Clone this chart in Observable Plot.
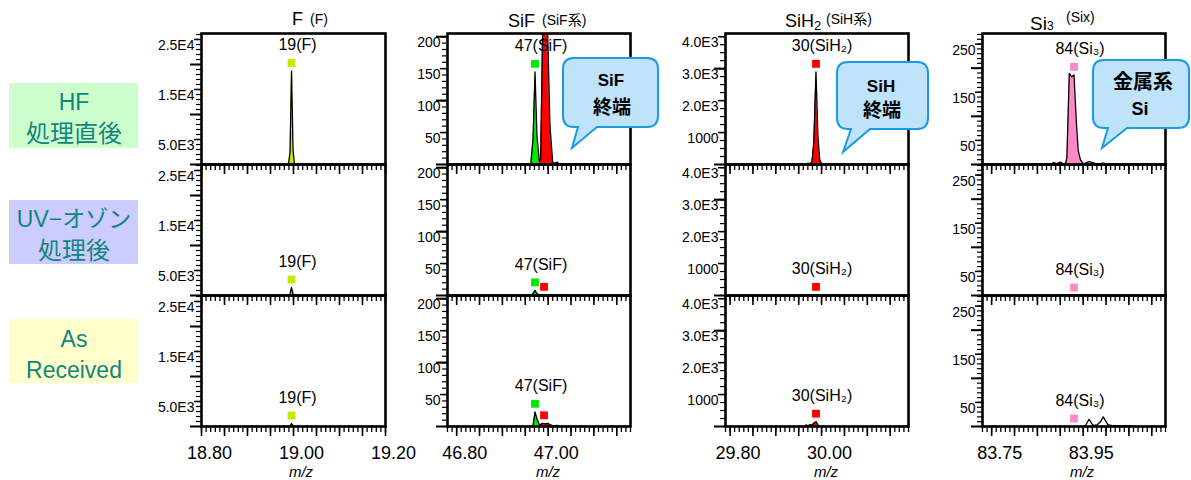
<!DOCTYPE html>
<html><head><meta charset="utf-8">
<script src="https://cdn.jsdelivr.net/npm/d3@7"></script>
<script src="https://cdn.jsdelivr.net/npm/@observablehq/plot@0.6"></script>
<style>
body{margin:0;background:#fff;}
#wrap{position:relative;width:1191px;height:480px;overflow:hidden;background:#fff;font-family:"Liberation Sans","Noto Sans CJK JP",sans-serif;}
#wrap > .col{position:absolute;top:0;}
#wrap svg{max-width:none !important;}
</style></head><body><div id="wrap"></div>
<script>
// ---------------- data ----------------
const rowKeys = ["HF", "UV", "AR"];

// F column (m/z around 19)
const F_mz = [18.80, 18.985, 18.989, 18.9925, 18.9957, 18.9990, 19.002, 19.006, 19.20];
const F_HF = [0, 0, 0, 2500, 18700, 3000, 0, 0, 0];
const F_UV = [0, 0, 0, 250, 1600, 300, 0, 0, 0];
const F_AR = [0, 0, 0, 100, 600, 120, 0, 0, 0];

// SiF column (m/z around 47)
const SiF_mz = [46.78, 46.95, 46.962, 46.967, 46.9713, 46.9755, 46.9807, 46.9835, 46.988, 46.9935, 46.999, 47.004, 47.010, 47.015, 47.019, 47.024, 47.03, 47.18];
const SiF_HF = [0, 0, 1, 40, 145, 45, 5, 8, 210, 330, 205, 60, 3, 2, 4, 1, 1, 0];
const SiF_UV = [0, 0, 0, 3, 8, 3, 1, 1, 1, 1, 1, 0, 0, 0, 0, 0, 0, 0];
const SiF_AR = [0, 0, 0, 2, 23, 12, 3, 3, 5, 4, 5, 3, 1, 1, 2, 0, 0, 0];

// SiH2 column (m/z around 30)
const SiH_mz = [29.79, 29.962, 29.966, 29.970, 29.975, 29.979, 29.983, 29.9878, 29.992, 29.996, 30.000, 30.004, 30.19];
const SiH_HF = [0, 0, 20, 40, 30, 80, 700, 2900, 900, 150, 30, 0, 0];
const SiH_UV = [0, 0, 0, 10, 0, 10, 20, 20, 10, 0, 0, 0, 0];
const SiH_AR = [0, 0, 50, 20, 60, 40, 100, 150, 50, 0, 0, 0, 0];

// Si3 column (m/z around 84)
const Si3_mz = [83.73, 83.88, 83.885, 83.892, 83.90, 83.906, 83.912, 83.9145, 83.9197, 83.925, 83.930, 83.935, 83.939, 83.944, 83.950, 83.955, 83.963, 83.971, 83.980, 83.988, 83.994, 84.004, 84.013, 84.03, 84.052, 84.06, 84.13];
const Si3_HF = [0, 0, 4, 2, 5, 2, 3, 15, 189, 182, 186, 90, 30, 10, 2, 3, 6, 4, 1, 2, 3, 1, 0, 0, 0, 0, 0];
const Si3_UV = [0, 0, 0, 0, 0, 0, 0, 0, 0, 0, 0, 0, 0, 0, 0, 0, 0, 0, 0, 0, 0, 0, 0, 0, 0, 0, 0];
const Si3_AR = [0, 0, 0, 0, 0, 0, 0, 0, 0, 0, 0, 0, 0, 0, 0, 2, 15, 3, 3, 10, 20, 4, 2, 1, 2, 0, 0];

// tick values and labels
const F_xTicks = [18.80, 19.00, 19.20];
const SiF_xTicks = [46.80, 47.00];
const SiH_xTicks = [29.80, 30.00];
const Si3_xTicks = [83.75, 83.95];
const F_yTicks = [5000, 15000, 25000];
const F_yLabels = ["5.0E3", "1.5E4", "2.5E4"];
const SiF_yTicks = [50, 100, 150, 200];
const SiF_yLabels = ["50", "100", "150", "200"];
const SiH_yTicks = [1000, 2000, 3000, 4000];
const SiH_yLabels = ["1000", "2.0E3", "3.0E3", "4.0E3"];
const Si3_yTicks = [50, 150, 250];
const Si3_yLabels = ["50", "150", "250"];

// reference peak markers (m/z) and labels
const F_marks = [18.9957];
const SiF_marks = [46.9713, 46.991];
const SiH_marks = [29.9878];
const Si3_marks = [83.930];
const peakLabels = ["19(F)", "47(SiF)", "30(SiH₂)", "84(Si₃)"];

// ---------------- styles / layout ----------------
const LIME = "#c8e800", GREEN = "#00e800", RED = "#ff0000", PINK = "#ff88c8";
const cols = [
  {mz: F_mz, rows: [F_HF, F_UV, F_AR], xDomain: [18.80, 19.20], yDomain: [0, 26200],
   xTicks: F_xTicks, yTicks: F_yTicks, yLabels: F_yLabels, yMinorStep: 1000, yLong: [0, 10000, 20000],
   marks: F_marks, markColors: [LIME], fills: [{from: 18.98, to: 19.01, color: LIME}],
   label: peakLabels[0], left: 201, w: 184},
  {mz: SiF_mz, rows: [SiF_HF, SiF_UV, SiF_AR], xDomain: [46.78, 47.18], yDomain: [0, 205],
   xTicks: SiF_xTicks, yTicks: SiF_yTicks, yLabels: SiF_yLabels, yMinorStep: 10, yLong: [0, 100, 200],
   marks: SiF_marks, markColors: [GREEN, RED],
   fills: [{from: 46.955, to: 46.9807, color: GREEN}, {from: 46.9807, to: 47.012, color: RED}],
   label: peakLabels[1], left: 447, w: 183},
  {mz: SiH_mz, rows: [SiH_HF, SiH_UV, SiH_AR], xDomain: [29.79, 30.19], yDomain: [0, 4100],
   xTicks: SiH_xTicks, yTicks: SiH_yTicks, yLabels: SiH_yLabels, yMinorStep: 250, yLong: [0, 3000],
   marks: SiH_marks, markColors: [RED], fills: [{from: 29.977, to: 30.004, color: RED}],
   label: peakLabels[2], left: 725, w: 183},
  {mz: Si3_mz, rows: [Si3_HF, Si3_UV, Si3_AR], xDomain: [83.73, 84.13], yDomain: [0, 272],
   xTicks: Si3_xTicks, yTicks: Si3_yTicks, yLabels: Si3_yLabels, yMinorStep: 10, yLong: [0, 100, 200],
   marks: Si3_marks, markColors: [PINK], fills: [{from: 83.912, to: 83.952, color: PINK}],
   label: peakLabels[3], left: 982, w: 183}
];

const mL = 60, mR = 40, mT = 32, mB = 54, H = 480;
const FH = Math.floor((H - mT - mB) / rowKeys.length);   // rounded facet band height
const wrap = document.getElementById("wrap");

function peakNear(mz, ys, x, w) {
  let best = 0;
  mz.forEach((m, j) => { if (Math.abs(m - x) <= w) best = Math.max(best, ys[j]); });
  return best;
}
// short tick segments drawn with rules, measured from the frame line outward
const xTick = (vals, len, sw) => Plot.ruleX(vals, {x: d => d, insetTop: FH - len, dy: len, stroke: "#000", strokeWidth: sw});
const yTick = (vals, W, len, sw) => Plot.ruleY(vals, {y: d => d, insetRight: W - len, dx: -len, stroke: "#000", strokeWidth: sw});

cols.forEach(c => {
  const data = [];
  c.rows.forEach((ys, i) => c.mz.forEach((m, j) => data.push({row: rowKeys[i], mz: m, v: ys[j]})));
  const markData = [];
  c.marks.forEach((x, k) => c.rows.forEach((ys, i) =>
    markData.push({row: rowKeys[i], mz: x, v: peakNear(c.mz, ys, x, 0.004), k})));
  const labelData = markData.filter(d => d.k === 0);

  const [a, b] = c.xDomain;
  const minorX = d3.range(Math.ceil(a * 100 - 1e-6), Math.floor(b * 100 + 1e-6) + 1).map(v => v / 100);
  const medX = minorX.filter(v => Math.abs(v * 20 - Math.round(v * 20)) < 1e-6);
  const yMinor = d3.range(0, c.yDomain[1] + 1e-9, c.yMinorStep);
  const fmtY = v => c.yLabels[c.yTicks.indexOf(v)];
  const W = c.w;

  const marks = [];
  c.fills.forEach(f => marks.push(Plot.areaY(data.filter(d => d.mz >= f.from && d.mz <= f.to),
    {x: "mz", y: "v", fy: "row", fill: f.color, clip: true})));
  marks.push(Plot.lineY(data, {x: "mz", y: "v", fy: "row", stroke: "#000", strokeWidth: 1.3, clip: true}));
  c.marks.forEach((x, k) => marks.push(Plot.dot(markData.filter(d => d.k === k),
    {x: "mz", y: "v", fy: "row", dy: -8, symbol: "square", r: 4.4, fill: c.markColors[k], clip: true})));
  marks.push(Plot.text(labelData, {x: "mz", y: "v", fy: "row", text: () => c.label, dy: -26, dx: 6, fontSize: 16, fill: "#000"}));
  marks.push(Plot.frame({stroke: "#000", strokeWidth: 2.6}));
  // y ticks (pointing left) on every row
  marks.push(yTick(yMinor, W, 5, 1.2));
  marks.push(yTick(c.yTicks, W, 7, 1.5));
  marks.push(yTick(c.yLong, W, 11, 2));
  marks.push(Plot.axisY(c.yTicks, {tickSize: 0, tickPadding: 7, tickFormat: fmtY, fontSize: 14, dy: 6, label: null}));
  // x ticks (pointing down) under every row, labels on the bottom row
  marks.push(xTick(minorX, 6, 1.3));
  marks.push(xTick(medX, 10, 1.6));
  marks.push(Plot.axisX(c.xTicks, {tickSize: 0, tickPadding: 20, tickFormat: d3.format(".2f"), fontSize: 18, dx: 8, label: null}));

  const svg = Plot.plot({
    width: mL + W + mR, height: H,
    marginLeft: mL, marginRight: mR, marginTop: mT, marginBottom: mB,
    x: {domain: c.xDomain},
    y: {domain: c.yDomain},
    fy: {domain: rowKeys, padding: 0, axis: null},
    style: {fontFamily: "Liberation Sans, Noto Sans CJK JP, sans-serif", background: "transparent", overflow: "visible", color: "#000", maxWidth: "none"},
    marks
  });
  const div = document.createElement("div");
  div.className = "col";
  div.style.left = (c.left - mL) + "px";
  div.style.width = (mL + W + mR) + "px";
  div.appendChild(svg);
  wrap.appendChild(div);
});

// ---------------- annotations overlay ----------------
function bubble(x0, y0, x1, y1, r, b1, b2, tx, ty) {
  return `M${x0 + r},${y0} H${x1 - r} Q${x1},${y0} ${x1},${y0 + r} V${y1 - r} Q${x1},${y1} ${x1 - r},${y1} H${b2} L${tx},${ty} L${b1},${y1} H${x0 + r} Q${x0},${y1} ${x0},${y1 - r} V${y0 + r} Q${x0},${y0} ${x0 + r},${y0} Z`;
}
const TEAL = "#12847e";
const overlay = `
<svg width="1191" height="480" style="position:absolute;left:0;top:0;overflow:visible" font-family="Liberation Sans, Noto Sans CJK JP, sans-serif">
  <text x="292" y="25" font-size="18">F</text><text x="310" y="24" font-size="14">(F)</text>
  <text x="508" y="27" font-size="18">SiF</text><text x="542" y="25" font-size="14">(SiF系)</text>
  <text x="785" y="27" font-size="18">SiH<tspan font-size="13" dy="3">2</tspan></text><text x="826" y="24" font-size="14">(SiH系)</text>
  <text x="1030" y="30" font-size="19">Si<tspan font-size="12">3</tspan></text><text x="1066" y="22" font-size="14">(Six)</text>

  <rect x="9" y="83" width="129" height="65" fill="#ccffcc"/>
  <text x="74" y="110" text-anchor="middle" font-size="23" fill="${TEAL}">HF</text>
  <text x="74" y="142" text-anchor="middle" font-size="24" fill="${TEAL}">処理直後</text>
  <rect x="9" y="200" width="129" height="64" fill="#ccccff"/>
  <text x="74" y="227" text-anchor="middle" font-size="23" fill="${TEAL}">UV−オゾン</text>
  <text x="74" y="259" text-anchor="middle" font-size="24" fill="${TEAL}">処理後</text>
  <rect x="9" y="319" width="129" height="64" fill="#ffffcc"/>
  <text x="74" y="347" text-anchor="middle" font-size="23" fill="${TEAL}">As</text>
  <text x="74" y="378" text-anchor="middle" font-size="23" fill="${TEAL}">Received</text>

  <text x="301" y="477" text-anchor="middle" font-size="15" font-style="italic">m/z</text>
  <text x="548" y="477" text-anchor="middle" font-size="15" font-style="italic">m/z</text>
  <text x="826" y="477" text-anchor="middle" font-size="15" font-style="italic">m/z</text>
  <text x="1082" y="477" text-anchor="middle" font-size="15" font-style="italic">m/z</text>

  <path d="${bubble(563, 58, 658, 127, 11, 578, 597, 572, 148)}" fill="#bfe3fa" stroke="#1a9ae5" stroke-width="2"/>
  <text x="611" y="86" text-anchor="middle" font-size="17" font-weight="bold">SiF</text>
  <text x="612" y="114" text-anchor="middle" font-size="19" font-weight="bold">終端</text>
  <path d="${bubble(837, 62, 928, 129, 11, 851, 870, 843, 152)}" fill="#bfe3fa" stroke="#1a9ae5" stroke-width="2"/>
  <text x="881" y="92" text-anchor="middle" font-size="17" font-weight="bold">SiH</text>
  <text x="882" y="117" text-anchor="middle" font-size="19" font-weight="bold">終端</text>
  <path d="${bubble(1093, 60, 1189, 128, 11, 1108, 1127, 1102, 148)}" fill="#bfe3fa" stroke="#1a9ae5" stroke-width="2"/>
  <text x="1143" y="89" text-anchor="middle" font-size="20" font-weight="bold">金属系</text>
  <text x="1140" y="115" text-anchor="middle" font-size="18" font-weight="bold">Si</text>
</svg>`;
wrap.insertAdjacentHTML("beforeend", overlay);
</script>
</body></html>
